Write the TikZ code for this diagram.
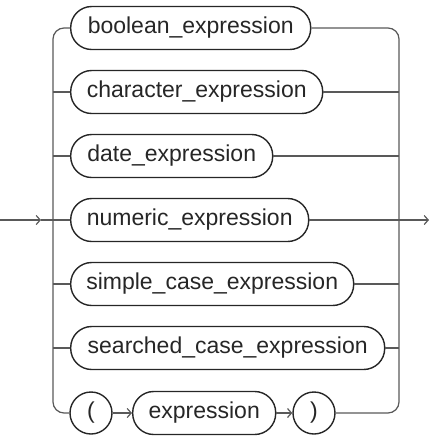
\documentclass[tikz,border=0pt]{standalone}
\usepackage{fontspec}
\setmainfont{Liberation Sans}
\usetikzlibrary{arrows.meta}
\begin{document}
\begin{tikzpicture}[x=1pt,y=-1pt,
  term/.style={draw=black!85,line width=1.4pt,rounded corners=21pt,minimum height=43pt,inner sep=0pt,anchor=west,font=\fontsize{23}{26}\selectfont,text=black!85},
  tok/.style={draw=black!85,line width=1.4pt,circle,minimum size=42pt,inner sep=0pt,font=\fontsize{23}{26}\selectfont,text=black!85},
  conn/.style={draw=black!65,line width=1.25pt},
  arr/.style={conn,-{Straight Barb[length=4pt,width=9pt,line width=1.2pt]}}]
\useasboundingbox (0,0) rectangle (430,440);
\coordinate (railL) at (53,0);
\coordinate (railR) at (399,0);
\node[term,minimum width=240pt] (b1) at (70,28) {boolean\_expression};
\node[term,minimum width=252pt] (b2) at (70,92) {character\_expression};
\node[term,minimum width=202pt] (b3) at (70,156) {date\_expression};
\node[term,minimum width=238pt] (b4) at (70,220) {numeric\_expression};
\node[term,minimum width=283pt] (b5) at (70,284) {simple\_case\_expression};
\node[term,minimum width=314pt] (b6) at (70,348) {searched\_case\_expression};
\node[tok] (lp) at (91,413) {(};
\node[term,minimum width=143pt] (ex) at (132,413) {expression};
\node[tok] (rp) at (314,413) {)};
\coordinate (in) at (0,220);
\coordinate (tipin) at (41,220);
\coordinate (out) at (429,220);
% left rail
\draw[conn,rounded corners=11pt] (b1.west) -- (railL |- b1.west) -- (railL |- lp.west) -- (lp.west);
% right rail
\draw[conn,rounded corners=11pt] (b1.east) -- (railR |- b1.east) -- (railR |- rp.east) -- (rp.east);
% branches
\foreach \n in {b2,b3,b5,b6} {
  \draw[conn] (railL |- \n.west) -- (\n.west);
  \draw[conn] (\n.east) -- (railR |- \n.east);
}
% entry and exit
\draw[arr] (in) -- (tipin);
\draw[conn] (tipin) -- (b4.west);
\draw[arr] (b4.east) -- (out);
% inside the paren row
\draw[arr] (lp.east) -- (ex.west);
\draw[arr] (ex.east) -- (rp.west);
\end{tikzpicture}
\end{document}
